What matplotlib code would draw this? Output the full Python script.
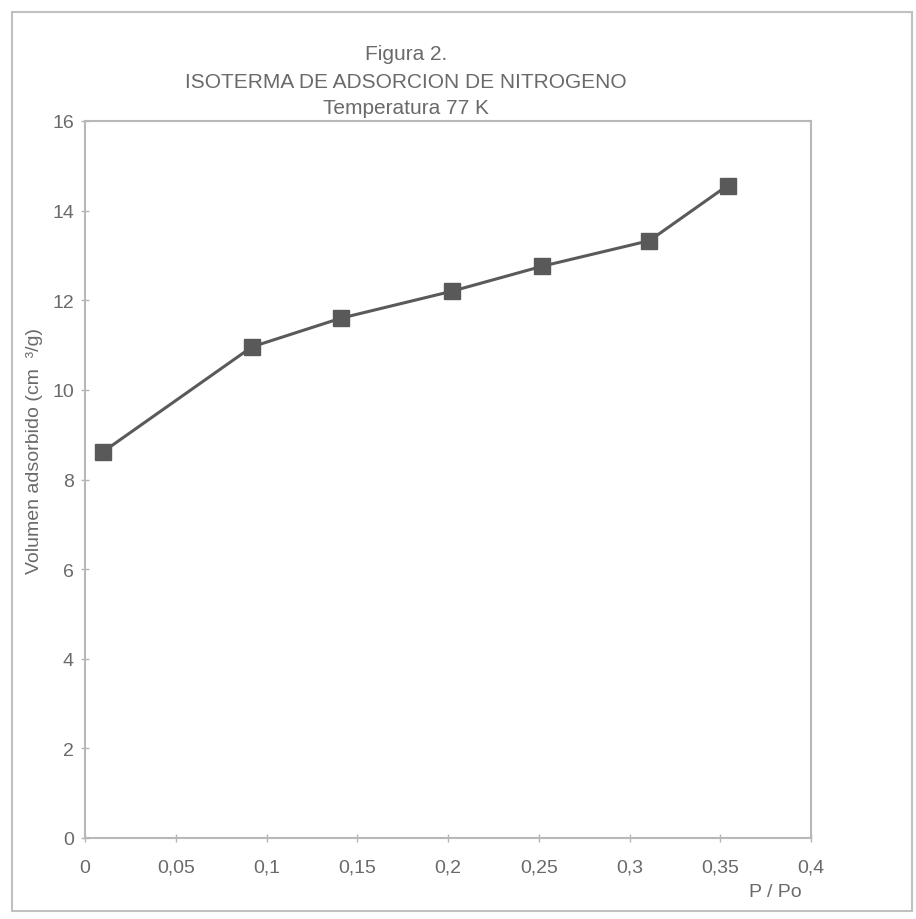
import matplotlib
matplotlib.use("Agg")
import matplotlib.pyplot as plt
from matplotlib.patches import Rectangle

# data
p_po = [0.010, 0.092, 0.141, 0.202, 0.252, 0.311, 0.354]
volumen = [8.62, 10.96, 11.60, 12.20, 12.76, 13.33, 14.56]
x_ticks = [0, 0.05, 0.1, 0.15, 0.2, 0.25, 0.3, 0.35, 0.4]
y_ticks = [0, 2, 4, 6, 8, 10, 12, 14, 16]

plt.rcParams['font.family'] = ['Liberation Sans', 'DejaVu Sans']
txt = '#6a6a6a'
W, H = 916, 920

fig = plt.figure(figsize=(W / 100, H / 100), dpi=100)
ax = fig.add_axes([85 / W, 1 - 839 / H, (811 - 85) / W, (839 - 122) / H])

ax.plot(p_po, volumen, color='#5a5a5a', lw=2.2, marker='s', markersize=12,
        markerfacecolor='#595959', markeredgecolor='#595959', clip_on=False)

ax.set_xlim(0, 0.4)
ax.set_ylim(0, 16)
ax.set_xticks(x_ticks)
ax.set_yticks(y_ticks)
ax.set_xticklabels([('%g' % v).replace('.', ',') for v in x_ticks])
ax.set_yticklabels([str(v) for v in y_ticks])
ax.tick_params(direction='inout', length=6, width=1, color='#b5b5b5',
               labelcolor=txt, labelsize=14)
ax.tick_params(axis='x', pad=12)
ax.tick_params(axis='y', pad=5)
for s in ax.spines.values():
    s.set_color('#b8b8b8')
    s.set_linewidth(1.5)

# title block
fig.text(406 / W, 1 - 55 / H, 'Figura 2.', ha='center', va='center',
         fontsize=15, color=txt)
fig.text(406 / W, 1 - 82 / H, 'ISOTERMA DE ADSORCION DE NITROGENO',
         ha='center', va='center', fontsize=15, color=txt)
fig.text(406 / W, 1 - 108 / H, 'Temperatura 77 K', ha='center', va='center',
         fontsize=15, color=txt)

fig.text(35 / W, 1 - 451 / H, 'Volumen adsorbido (cm  ³/g)', rotation=90,
         ha='center', va='center', fontsize=14, color=txt)
fig.text(775 / W, 1 - 893 / H, 'P / Po', ha='center', va='center',
         fontsize=14, color=txt)

# page border around the chart
fig.patches.append(Rectangle((12 / W, 1 - 912 / H), 900 / W, 899 / H,
                             transform=fig.transFigure, fill=False,
                             edgecolor='#c0c0c0', lw=1.5))

fig.savefig('out.png', dpi=100, facecolor='white')
